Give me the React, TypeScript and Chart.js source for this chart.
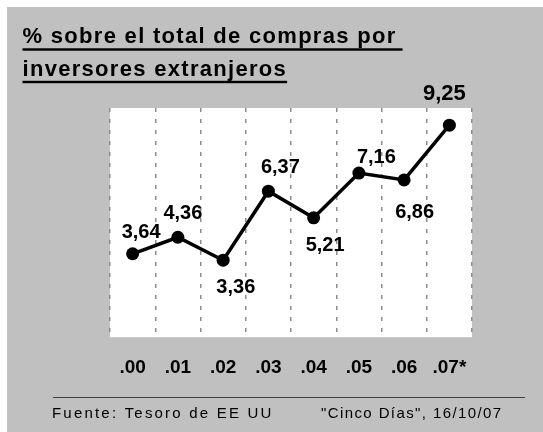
import React, { useEffect, useRef } from "react";
import { Chart, registerables } from "chart.js";

Chart.register(...registerables);

const categories = [".00", ".01", ".02", ".03", ".04", ".05", ".06", ".07*"];
const values = [3.64, 4.36, 3.36, 6.37, 5.21, 7.16, 6.86, 9.25];
const valueLabels = ["3,64", "4,36", "3,36", "6,37", "5,21", "7,16", "6,86", "9,25"];
const labelOffsets: [number, number][] = [
  [8.5, -23.3], [5, -25.7], [12.7, 25.7], [12, -25.2],
  [11.5, 26], [17.5, -17], [10.5, 31.3], [-5, -33],
];
const titleLines = ["% sobre el total de compras por", "inversores extranjeros"];
const footerLeft = "Fuente: Tesoro de EE UU";
const footerRight = "\"Cinco Días\", 16/10/07";

const FONT = "'Liberation Sans', Arial, sans-serif";

const decorPlugin = {
  id: "decor",
  beforeDraw(chart: any) {
    const { ctx, chartArea: a } = chart;
    ctx.save();
    ctx.fillStyle = "#ffffff";
    ctx.fillRect(0, 0, chart.width, chart.height);
    ctx.fillStyle = "#c0c0c0";
    ctx.fillRect(7, 7, chart.width - 7, chart.height - 7);
    ctx.fillStyle = "#ffffff";
    ctx.fillRect(a.left, a.top, a.right - a.left, a.bottom - a.top);
    ctx.restore();
  },
  afterDraw(chart: any) {
    const { ctx } = chart;
    ctx.save();
    // title
    ctx.fillStyle = "#000";
    ctx.font = `bold 22px ${FONT}`;
    (ctx as any).letterSpacing = "1.3px";
    ctx.textBaseline = "alphabetic";
    ctx.textAlign = "left";
    const baselines = [43.3, 75.7];
    const unders = [49.5, 82];
    const extra = [6, 0];
    titleLines.forEach((t, i) => {
      ctx.fillText(t, 22.5, baselines[i]);
      const w = ctx.measureText(t).width;
      ctx.fillRect(22.5, unders[i] - 1.2, w + extra[i], 2.4);
    });
    // footer
    ctx.fillStyle = "#404040";
    ctx.fillRect(53, 397, 472, 1);
    ctx.fillStyle = "#000";
    ctx.font = `15px ${FONT}`;
    (ctx as any).letterSpacing = "2.2px";
    ctx.fillText(footerLeft, 52, 417.7);
    (ctx as any).letterSpacing = "1.4px";
    ctx.fillText(footerRight, 321, 417.7);
    ctx.restore();
  },
  afterDatasetsDraw(chart: any) {
    const { ctx } = chart;
    const meta = chart.getDatasetMeta(0);
    ctx.save();
    ctx.fillStyle = "#000";
    ctx.textAlign = "center";
    ctx.textBaseline = "alphabetic";
    (ctx as any).letterSpacing = "0px";
    meta.data.forEach((pt: any, i: number) => {
      const size = i === valueLabels.length - 1 ? 22 : 20;
      ctx.font = `bold ${size}px ${FONT}`;
      const [dx, dy] = labelOffsets[i];
      ctx.fillText(valueLabels[i], pt.x + dx, pt.y + dy + 0.358 * size);
    });
    ctx.restore();
  },
};

export default function App() {
  const ref = useRef<HTMLCanvasElement>(null);
  useEffect(() => {
    if (!ref.current) return;
    const chart = new Chart(ref.current, {
      type: "line",
      data: {
        labels: categories,
        datasets: [
          {
            data: values,
            borderColor: "#000",
            backgroundColor: "#000",
            borderWidth: 3.5,
            pointRadius: 6.5,
            pointHoverRadius: 6.5,
            pointBackgroundColor: "#000",
            pointBorderWidth: 0,
            tension: 0,
            clip: false as any,
          },
        ],
      },
      options: {
        responsive: false,
        animation: false,
        events: [],
        layout: { padding: { left: 110, right: 71, top: 108, bottom: 34 } },
        plugins: {
          legend: { display: false },
          title: { display: false },
          tooltip: { enabled: false },
        },
        scales: {
          x: {
            type: "category",
            offset: true,
            grid: {
              display: true,
              offset: true,
              drawTicks: false,
              color: "#8c8c8c",
              lineWidth: 1.5,
            },
            border: { display: false, dash: [4, 7] },
            ticks: {
              color: "#000",
              font: { family: FONT, size: 19, weight: "bold" },
              padding: 19,
              maxRotation: 0,
              autoSkip: false,
            },
          },
          y: {
            display: false,
            min: 0,
            max: 10,
          },
        },
      },
      plugins: [decorPlugin],
    });
    return () => chart.destroy();
  }, []);
  return (
    <canvas
      ref={ref}
      width={543}
      height={432}
      style={{ position: "fixed", left: 0, top: 0, display: "block" }}
    />
  );
}
